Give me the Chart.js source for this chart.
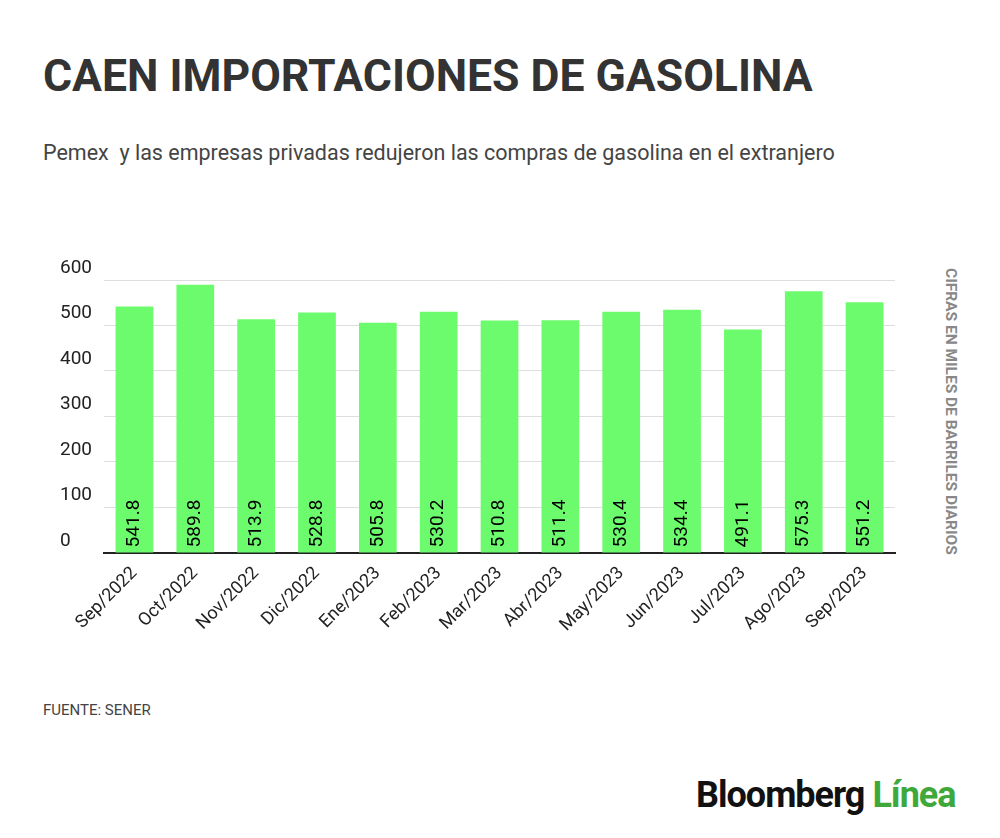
<!DOCTYPE html>
<html><head><meta charset="utf-8">
<script src="https://cdn.jsdelivr.net/npm/chart.js@4"></script>
<style>
body{margin:0;background:#fff;font-family:Roboto,sans-serif;}
#wrap{position:relative;width:1000px;height:838px;overflow:hidden}
.t{position:absolute;white-space:nowrap}
</style></head><body>
<div id="wrap">
<div class="t" style="left:43px;top:50px;font-size:44.5px;font-weight:bold;color:#333">CAEN IMPORTACIONES DE GASOLINA</div>
<div class="t" style="left:43px;top:140px;font-size:21.5px;color:#444">Pemex&nbsp; y las empresas privadas redujeron las compras de gasolina en el extranjero</div>
<div class="t" style="left:960px;top:268px;font-size:15.5px;font-weight:bold;color:#888;transform-origin:0 0;transform:rotate(90deg)">CIFRAS EN MILES DE BARRILES DIARIOS</div>
<div class="t" style="left:43px;top:701px;font-size:15px;color:#444">FUENTE: SENER</div>
<div class="t" style="left:696px;top:774px;font-size:36px;font-weight:bold;color:#111;letter-spacing:-1px">Bloomberg <span style="color:#3fa83a">Línea</span></div>
<div style="position:absolute;left:0;top:240px;width:1000px;height:398px"><canvas id="c"></canvas></div>
</div>
<script>
const categories=['Sep/2022','Oct/2022','Nov/2022','Dic/2022','Ene/2023','Feb/2023','Mar/2023','Abr/2023','May/2023','Jun/2023','Jul/2023','Ago/2023','Sep/2023'];
const values=[541.8,589.8,513.9,528.8,505.8,530.2,510.8,511.4,530.4,534.4,491.1,575.3,551.2];
const yTicks=[0,100,200,300,400,500,600];

const labelPlugin={id:'lbl',afterDatasetsDraw(chart){
  const ctx=chart.ctx;const meta=chart.getDatasetMeta(0);
  ctx.save();ctx.font='19px Roboto';ctx.fillStyle='#000';ctx.textAlign='left';ctx.textBaseline='middle';
  meta.data.forEach((b,i)=>{ctx.save();ctx.translate(b.x,b.base-5);ctx.rotate(-Math.PI/2);ctx.fillText(values[i].toFixed(1),0,0);ctx.restore();});
  ctx.restore();}};

new Chart(document.getElementById('c'),{
  type:'bar',
  data:{labels:categories,datasets:[{data:values,backgroundColor:'#6cfb6c',categoryPercentage:0.62,barPercentage:1}]},
  options:{responsive:true,maintainAspectRatio:false,animation:false,
    layout:{padding:{left:60,right:105,top:40}},
    plugins:{legend:{display:false},tooltip:{enabled:false}},
    scales:{
      x:{grid:{display:false},border:{color:'#222',width:2},
        ticks:{color:'#222',font:{family:'Roboto',size:18},maxRotation:45,minRotation:45,padding:2}},
      y:{min:0,max:600,afterBuildTicks:a=>{a.ticks=yTicks.map(v=>({value:v}));},
        border:{display:false},grid:{color:'#ddd',drawTicks:false},
        ticks:{color:'#222',font:{family:'Roboto',size:19},crossAlign:'far',padding:6,labelOffset:-12}}
    }},
  plugins:[labelPlugin]
});
</script>
</body></html>
